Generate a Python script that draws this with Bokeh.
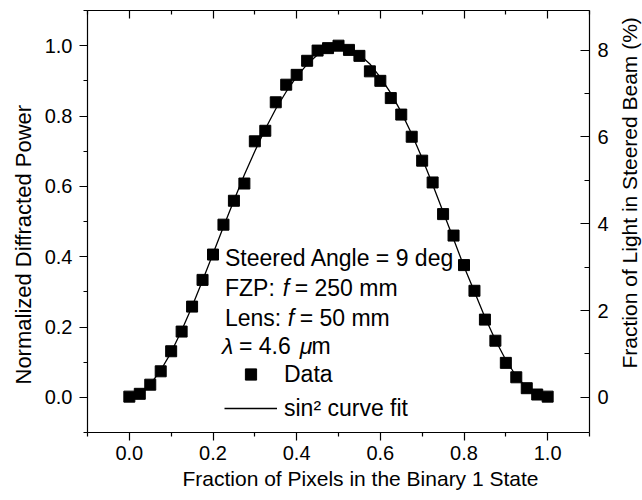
import math
from bokeh.plotting import figure
from bokeh.layouts import row
from bokeh.models import (LinearAxis, Range1d, FixedTicker, NumeralTickFormatter,
                          Label, Legend, LegendItem, ColumnDataSource, Title)
from bokeh.embed import file_html
from bokeh.resources import INLINE

# ---------------- data ----------------
pixel_fraction = [0.000, 0.025, 0.050, 0.075, 0.100, 0.125, 0.150, 0.175, 0.200, 0.225,
                  0.250, 0.275, 0.300, 0.325, 0.350, 0.375, 0.400, 0.425, 0.450, 0.475,
                  0.500, 0.525, 0.550, 0.575, 0.600, 0.625, 0.650, 0.675, 0.700, 0.725,
                  0.750, 0.775, 0.800, 0.825, 0.850, 0.875, 0.900, 0.925, 0.950, 0.975,
                  1.000]
norm_power = [0.002, 0.010, 0.036, 0.074, 0.131, 0.187, 0.258, 0.334, 0.406, 0.491,
              0.559, 0.608, 0.728, 0.758, 0.839, 0.889, 0.917, 0.957, 0.986, 0.993,
              1.000, 0.988, 0.971, 0.927, 0.900, 0.851, 0.804, 0.741, 0.673, 0.611,
              0.521, 0.460, 0.376, 0.303, 0.221, 0.161, 0.098, 0.057, 0.026, 0.008,
              0.002]
fit_power = [0.000, 0.012, 0.037, 0.077, 0.128, 0.190, 0.258, 0.332, 0.408, 0.485,
             0.560, 0.633, 0.700, 0.763, 0.820, 0.869, 0.912, 0.947, 0.974, 0.992,
             1.000, 0.992, 0.975, 0.948, 0.910, 0.865, 0.811, 0.749, 0.680, 0.605,
             0.528, 0.450, 0.372, 0.300, 0.228, 0.163, 0.106, 0.060, 0.027, 0.007,
             0.000]

x_ticks = [0.0, 0.2, 0.4, 0.6, 0.8, 1.0]
x_minor_ticks = [-0.1, 0.1, 0.3, 0.5, 0.7, 0.9, 1.1]
y_ticks = [0.0, 0.2, 0.4, 0.6, 0.8, 1.0]
y_minor_ticks = [-0.1, 0.1, 0.3, 0.5, 0.7, 0.9, 1.1]
pct_ticks = [0, 2, 4, 6, 8]
pct_minor_ticks = [1, 3, 5, 7]

x_title = "Fraction of Pixels in the Binary 1 State"
y_title = "Normalized Diffracted Power"
y2_title = "Fraction of Light in Steered Beam (%)"
legend_labels = ["Data", "sin\u00b2 curve fit"]

FONT = "Liberation Sans"

src = ColumnDataSource(dict(x=pixel_fraction, y=norm_power, fit=fit_power))

# main chart: frame spans x 87..591, y 10..432 on the page
p = figure(width=611, height=500,
           x_range=Range1d(-0.1, 1.1), y_range=Range1d(-0.1, 1.1),
           output_backend="svg", toolbar_location=None,
           min_border_left=87, min_border_right=20,
           min_border_top=10, min_border_bottom=68,
           background_fill_color="white", border_fill_color="white",
           outline_line_color=None)
p.xgrid.visible = False
p.ygrid.visible = False

p.extra_y_ranges = {"pct": Range1d(-0.81, 8.91)}


def style_axis(ax, tin, tout, min_in, min_out, standoff, label_size="20px"):
    ax.axis_line_color = "black"
    ax.axis_line_width = 1.2
    ax.major_tick_line_color = "black"
    ax.minor_tick_line_color = "black"
    ax.major_tick_line_width = 1.2
    ax.minor_tick_line_width = 1.2
    ax.major_tick_in = tin
    ax.major_tick_out = tout
    ax.minor_tick_in = min_in
    ax.minor_tick_out = min_out
    ax.major_label_standoff = standoff
    ax.major_label_text_font = FONT
    ax.major_label_text_font_size = label_size
    ax.major_label_text_color = "black"


xax = p.xaxis[0]
xax.ticker = FixedTicker(ticks=x_ticks, minor_ticks=x_minor_ticks)
xax.formatter = NumeralTickFormatter(format="0.0")
style_axis(xax, 0, 8, 0, 4, 5)

yax = p.yaxis[0]
yax.ticker = FixedTicker(ticks=y_ticks, minor_ticks=y_minor_ticks)
yax.formatter = NumeralTickFormatter(format="0.0")
style_axis(yax, 0, 8, 0, 4, 7)

top = LinearAxis(ticker=FixedTicker(ticks=x_ticks, minor_ticks=x_minor_ticks))
style_axis(top, 8, 0, 4, 0, 0, label_size="0px")
top.major_label_text_alpha = 0
p.add_layout(top, "above")

right = LinearAxis(y_range_name="pct",
                   ticker=FixedTicker(ticks=pct_ticks, minor_ticks=pct_minor_ticks))
right.formatter = NumeralTickFormatter(format="0")
style_axis(right, 9, 0, 5, 0, 8)
p.add_layout(right, "right")

# axis titles placed like the reference (shifted from the frame centre)
p.add_layout(Title(text=x_title, align="left", offset=95, vertical_align="top",
                   standoff=8, text_font=FONT, text_font_size="21px",
                   text_font_style="normal", text_color="black"), "below")
p.add_layout(Title(text=y_title, align="left", offset=48, vertical_align="bottom",
                   standoff=12, text_font=FONT, text_font_size="22px",
                   text_font_style="normal", text_color="black"), "left")

r_fit = p.line(x="x", y="fit", source=src, line_color="black", line_width=1.3)
r_data = p.scatter(x="x", y="y", source=src, marker="square", size=11,
                   fill_color="black", line_color="black")

legend = Legend(items=[LegendItem(label=legend_labels[0], renderers=[r_data]),
                       LegendItem(label=legend_labels[1], renderers=[r_fit])],
                location=(137, 9.7), glyph_width=53, glyph_height=28,
                label_standoff=7, spacing=6, padding=0, margin=0,
                border_line_color=None, background_fill_alpha=0,
                label_text_font=FONT, label_text_font_size="23px",
                label_text_color="black")
p.add_layout(legend)


# page-pixel helpers for text placement (frame: x 87..591 -> -0.1..1.1, y 10..432 -> 1.1..-0.1)
def dx(px):
    return (px - 129.0) / 420.0


def dy(py):
    return (396.8 - py) / 351.67


def add_text(txt, px, py, italic=False, size="23px"):
    p.add_layout(Label(x=dx(px), y=dy(py), text=txt, text_font=FONT,
                       text_font_size=size,
                       text_font_style="italic" if italic else "normal",
                       text_color="black", text_align="left",
                       text_baseline="middle"))


# annotation block
add_text("Steered Angle = 9 deg", 225, 257)
add_text("FZP:", 225, 287)
add_text("f", 283, 287, italic=True)
add_text("= 250 mm", 295, 287)
add_text("Lens:", 225, 317)
add_text("f", 288, 317, italic=True)
add_text("= 50 mm", 300, 317)
add_text("\u03bb", 222, 345, italic=True)
add_text("= 4.6", 239, 345)
add_text("\u03bc", 300, 345, italic=True)
add_text("m", 312, 345)

# right-hand axis title, reading bottom-to-top, in a narrow strip (page x 611..642)
side = figure(width=31, height=500, x_range=Range1d(611, 642), y_range=Range1d(500, 0),
              output_backend="svg", toolbar_location=None,
              x_axis_location=None, y_axis_location=None, min_border=0,
              background_fill_color="white", border_fill_color="white",
              outline_line_color=None)
side.xgrid.visible = False
side.ygrid.visible = False
side.add_layout(Label(x=628.5, y=216, text=y2_title, text_font=FONT,
                      text_font_size="21px", text_color="black",
                      text_align="center", text_baseline="middle",
                      angle=math.pi / 2))

layout = row(p, side)
open("out.html", "w").write(file_html(layout, INLINE))
